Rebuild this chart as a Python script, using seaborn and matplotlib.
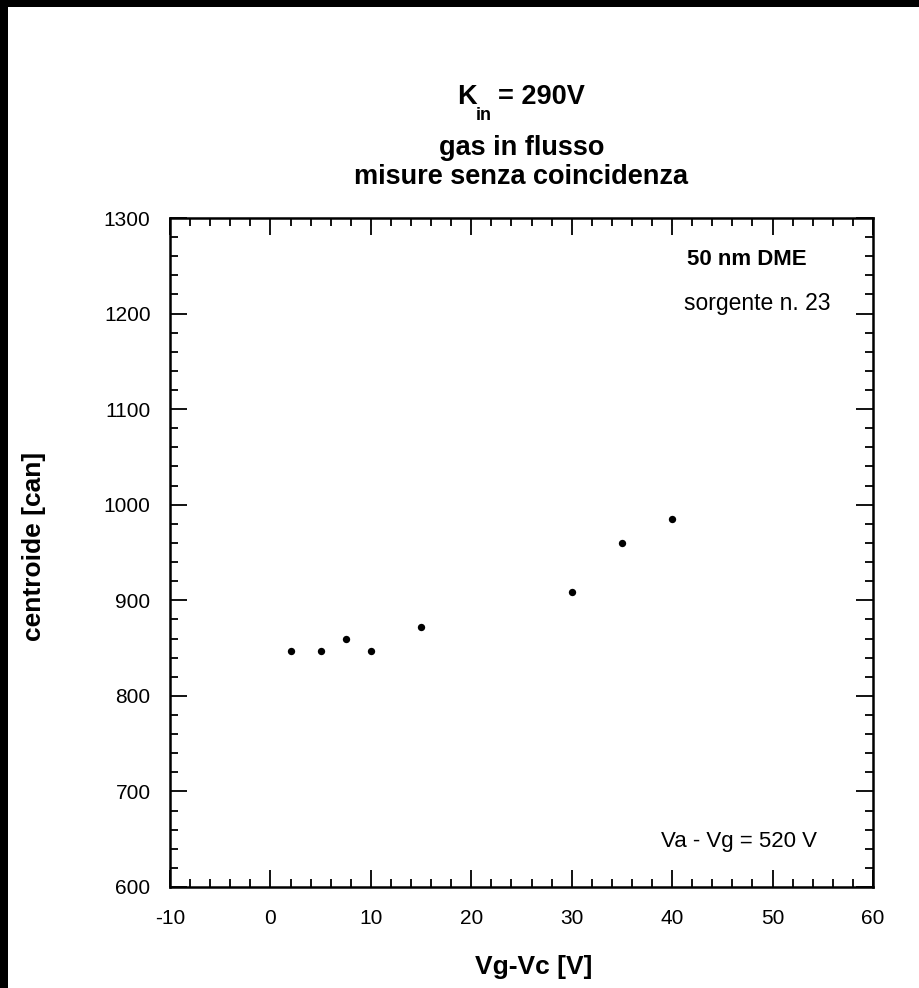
import numpy as np
import pandas as pd
import matplotlib
matplotlib.use("Agg")
import matplotlib.pyplot as plt
from matplotlib.patches import Rectangle
from matplotlib.ticker import MultipleLocator
import seaborn as sns

# Grid-cathode voltage difference [V] and measured centroid [channels]
vg_vc = [2, 5, 7.5, 10, 15, 30, 35, 40]
centroide = [847, 847, 860, 847, 872, 909, 960, 985]

x_ticks = [-10, 0, 10, 20, 30, 40, 50, 60]
y_ticks = [600, 700, 800, 900, 1000, 1100, 1200, 1300]

df = pd.DataFrame({"Vg-Vc [V]": vg_vc, "centroide [can]": centroide})

sns.set_style("ticks")
plt.rcParams["font.family"] = ["Liberation Sans", "DejaVu Sans"]
plt.rcParams["axes.unicode_minus"] = False
for key in ("text.color", "axes.labelcolor", "xtick.color", "ytick.color",
            "axes.edgecolor"):
    plt.rcParams[key] = "black"

W, H = 920, 988
fig = plt.figure(figsize=(W / 100, H / 100), dpi=100)
fig.patch.set_facecolor("white")


def fx(px):
    return px / W


def fy(py):
    return 1 - py / H


# axes box in pixel coordinates
left, right, top, bottom = 170, 873, 218, 887
ax = fig.add_axes([fx(left), fy(bottom), (right - left) / W, (bottom - top) / H])

sns.scatterplot(data=df, x="Vg-Vc [V]", y="centroide [can]", ax=ax,
                color="black", s=28, marker="o", linewidth=0, legend=False)

ax.set_xlim(-10, 60)
ax.set_ylim(600, 1300)
ax.set_xticks(x_ticks)
ax.set_yticks(y_ticks)
ax.xaxis.set_minor_locator(MultipleLocator(2))
ax.yaxis.set_minor_locator(MultipleLocator(20))
ax.tick_params(which="both", direction="in", top=True, right=True,
               color="black", width=1.3)
ax.tick_params(which="major", length=12, labelsize=15, labelcolor="black")
ax.tick_params(which="minor", length=6)
ax.tick_params(axis="x", which="major", pad=16)
ax.tick_params(axis="y", which="major", pad=14)
for s in ax.spines.values():
    s.set_linewidth(1.8)
    s.set_color("black")

ax.set_xlabel("Vg-Vc [V]", fontsize=19, fontweight="bold", va="center", ha="center")
ax.set_ylabel("centroide [can]", fontsize=19, fontweight="bold", va="center", ha="center")
ax.xaxis.set_label_coords((534 - left) / (right - left), -(967 - bottom) / (bottom - top))
ax.yaxis.set_label_coords(-(left - 34) / (right - left), (bottom - 546) / (bottom - top))

# annotations inside the plot
ax.text(0.82, 0.9375, "50 nm DME", transform=ax.transAxes, fontsize=16,
        fontweight="bold", ha="center", va="center")
ax.text(0.835, 0.872, "sorgente n. 23", transform=ax.transAxes, fontsize=16.5,
        ha="center", va="center")
ax.text(0.81, 0.068, "Va - Vg = 520 V", transform=ax.transAxes, fontsize=16,
        ha="center", va="center")

# title: K with subscript "in", then two lines of description
tsize = 19.5
fig.text(fx(457), fy(97), "K", fontsize=tsize, fontweight="bold",
         ha="left", va="center")
fig.text(fx(476), fy(116), "in", fontsize=13, fontweight="bold",
         ha="left", va="center")
fig.text(fx(498), fy(97), "= 290V", fontsize=tsize, fontweight="bold",
         ha="left", va="center")
cx = fx((left + right) / 2)
fig.text(cx, fy(148), "gas in flusso", fontsize=tsize, fontweight="bold",
         ha="center", va="center")
fig.text(cx, fy(177), "misure senza coincidenza", fontsize=tsize,
         fontweight="bold", ha="center", va="center")

# black frame strips along top and left edge
fig.patches.append(Rectangle((0, fy(7)), 1, 7 / H, transform=fig.transFigure,
                             facecolor="black", edgecolor="none", zorder=10))
fig.patches.append(Rectangle((0, 0), 8 / W, 1, transform=fig.transFigure,
                             facecolor="black", edgecolor="none", zorder=10))

fig.savefig("out.png", dpi=100, facecolor="white")
